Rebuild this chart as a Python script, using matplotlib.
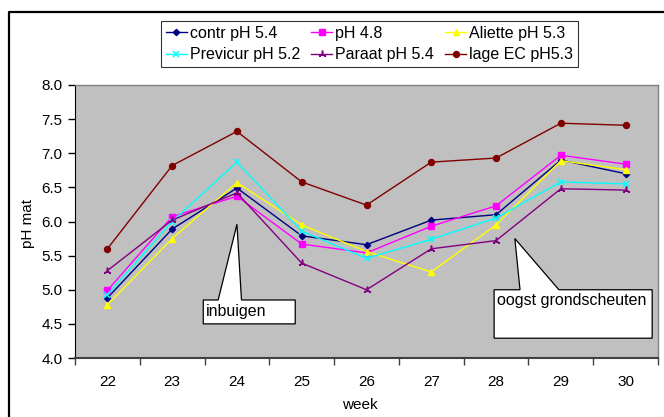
import matplotlib
matplotlib.use("Agg")
import matplotlib.pyplot as plt
from matplotlib.patches import Polygon
from matplotlib.lines import Line2D
import numpy as np

plt.rcParams['font.family'] = ['Liberation Sans', 'DejaVu Sans']

weeks = [22, 23, 24, 25, 26, 27, 28, 29, 30]
contr = [4.88, 5.89, 6.49, 5.79, 5.66, 6.02, 6.10, 6.90, 6.70]
ph48 = [4.99, 6.07, 6.37, 5.67, 5.54, 5.93, 6.23, 6.97, 6.84]
aliette = [4.78, 5.75, 6.57, 5.95, 5.56, 5.26, 5.95, 6.89, 6.76]
previcur = [4.93, 6.00, 6.87, 5.86, 5.46, 5.74, 6.05, 6.58, 6.55]
paraat = [5.28, 6.02, 6.42, 5.39, 5.00, 5.60, 5.72, 6.48, 6.46]
lage_ec = [5.60, 6.82, 7.32, 6.58, 6.24, 6.87, 6.93, 7.44, 7.41]
labels = ["contr pH 5.4", "pH 4.8", "Aliette pH 5.3",
          "Previcur pH 5.2", "Paraat pH 5.4", "lage EC pH5.3"]
yticks = [4.0, 4.5, 5.0, 5.5, 6.0, 6.5, 7.0, 7.5, 8.0]

fig = plt.figure(figsize=(6.64, 4.17), dpi=100)
ax = fig.add_axes([75/664, 1-358/417, 583/664, 273/417])
ax.set_facecolor('#C0C0C0')

x = np.arange(len(weeks))
series = [contr, ph48, aliette, previcur, paraat, lage_ec]
styles = [
    dict(color='#000080', marker='D', ms=3.2),
    dict(color='#FF00FF', marker='s', ms=4.3),
    dict(color='#FFFF00', marker='^', ms=5),
    dict(color='#00FFFF', marker='x', ms=4.5, mew=1.1),
    dict(color='#800080', marker=(3, 2, 0), ms=5.5, mew=1.1),
    dict(color='#800000', marker='o', ms=4.3),
]
handles = []
for vals, st, lab in zip(series, styles, labels):
    h, = ax.plot(x, vals, lw=1.0, label=lab, **st)
    handles.append(h)

ax.set_xlim(-0.5, len(weeks) - 0.5)
ax.set_ylim(4, 8)
ax.set_yticks(yticks)
ax.set_yticklabels([f"{v:.1f}" for v in yticks])
ax.set_xticks(np.arange(-0.5, len(weeks), 1.0))
ax.set_xticklabels([])
ax.set_xticks(x, minor=True)
ax.set_xticklabels([str(w) for w in weeks], minor=True)
ax.tick_params(axis='x', which='major', direction='out', length=5, width=1, color='#404040')
ax.tick_params(axis='x', which='minor', length=0, pad=12, labelsize=11)
ax.tick_params(axis='y', direction='out', length=5, width=1, pad=4, labelsize=11)

for s in ['top', 'right']:
    ax.spines[s].set_color('#808080')
    ax.spines[s].set_linewidth(1.0)
ax.spines['left'].set_color('#000000')
ax.spines['bottom'].set_color('#404040')
ax.spines['bottom'].set_linewidth(1.5)

ax.set_xlabel('week', fontsize=11)
ax.set_ylabel('pH mat', fontsize=11)
ax.xaxis.set_label_coords(0.489, -0.148)
ax.yaxis.set_label_coords(-0.068, 0.4945)

# callouts
def callout(box, base, tip, text, tx, ty):
    x0, x1, y0, y1 = box
    pts = [(x0, y1), (base[0], y1), tip, (base[1], y1), (x1, y1), (x1, y0), (x0, y0)]
    p = Polygon(pts, closed=True, facecolor='white', edgecolor='black', lw=0.9,
                transform=ax.transData, clip_on=False, zorder=5)
    ax.add_patch(p)
    ax.text(tx, ty, text, fontsize=11.5, ha='left', va='center', zorder=6)

callout((23.48-22, 24.90-22, 4.50, 4.85), (23.71-22, 24.07-22), (24.0-22, 5.96),
        'inbuigen', 23.52-22, 4.68)
callout((27.97-22, 30.41-22, 4.29, 5.00), (28.37-22, 28.97-22), (28.29-22, 5.75),
        'oogst grondscheuten', 28.02-22, 4.84)

order = [0, 3, 1, 4, 2, 5]
leg = fig.legend(handles=[handles[i] for i in order], loc='upper center', ncol=3,
                 bbox_to_anchor=(369.5/664, 1-21/417), fontsize=11.5,
                 frameon=True, fancybox=False, edgecolor='black',
                 handlelength=1.3, handletextpad=0.2, columnspacing=0.7,
                 labelspacing=0.4, borderpad=0.3, borderaxespad=0)
leg.get_frame().set_linewidth(0.8)

# outer frame (partially cropped)
fig.add_artist(Line2D([8.5/664, 8.5/664, 1.01], [-0.01, 1-12/417, 1-12/417],
                      transform=fig.transFigure, color='black', lw=1.6))

fig.savefig('out.png', dpi=100)
